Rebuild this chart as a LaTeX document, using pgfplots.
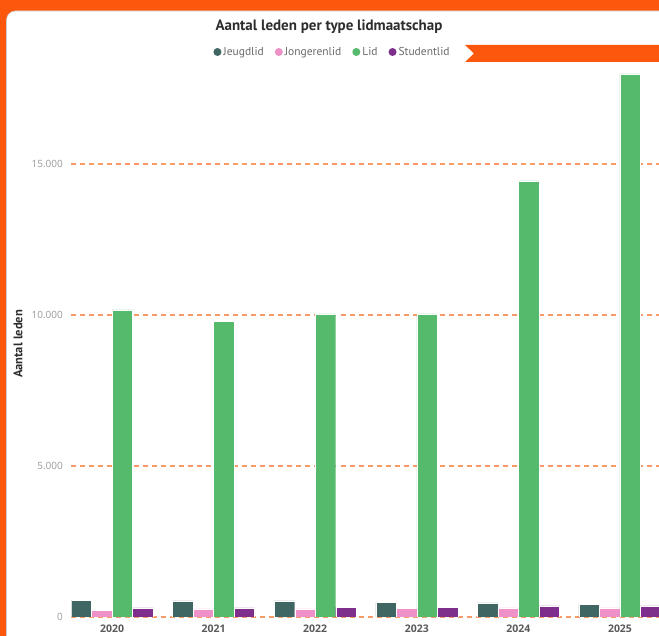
\documentclass[border=0pt]{standalone}
\usepackage{pgfplots}
\pgfplotsset{compat=1.18}
\usepackage{fontspec}
\setmainfont{Open Sans}
\newfontfamily\dinfont{PT Sans}
\definecolor{frameorange}{HTML}{FD560D}
\definecolor{gridorange}{HTML}{F89B68}
\definecolor{cJeugd}{HTML}{3F6662}
\definecolor{cJonger}{HTML}{EE91C9}
\definecolor{cLid}{HTML}{56BA6C}
\definecolor{cStudent}{HTML}{7E2F8C}
\definecolor{titlecol}{HTML}{2E2D2C}
\definecolor{tickgray}{HTML}{9A9A9A}
\definecolor{yeargray}{HTML}{5A5A5A}
\definecolor{leggray}{HTML}{6A6A6A}
\begin{document}
\begin{tikzpicture}[x=1pt,y=1pt]
\path[use as bounding box] (0,0) rectangle (659,636);
\fill[frameorange] (0,0) rectangle (659,636);
\fill[white,rounded corners=9pt,draw=black!20,line width=0.6pt] (6.5,-30) rectangle (668,625);
\fill[frameorange] (465,591) -- (474,582.5) -- (465,574) -- (670,574) -- (670,591) -- cycle;
\node[font=\dinfont\bfseries\fontsize{15}{17}\selectfont,text=titlecol] at (329,609) {Aantal leden per type lidmaatschap};
\node[font=\dinfont\bfseries\fontsize{12.5}{14}\selectfont,text=titlecol,rotate=90] at (18,292) {Aantal leden};
\begin{axis}[
  at={(71.4pt,19pt)}, anchor=south west,
  scale only axis, width=587.6pt, height=551pt,
  xmin=-0.4, xmax=5.384, ymin=0, ymax=18245,
  scaled y ticks=false,
  ybar=0pt, bar width=20.5pt,
  axis line style={draw=none}, tick style={draw=none},
  xtick={0,1,2,3,4,5},
  xticklabels={2020,2021,2022,2023,2024,2025},
  ytick={0,5000,10000,15000},
  yticklabels={0,5.000,10.000,15.000},
  xticklabel style={font=\bfseries\fontsize{10.5}{12}\selectfont,text=yeargray,yshift=-0.5pt},
  yticklabel style={font=\fontsize{10}{12}\selectfont,text=tickgray,xshift=-5pt},
  ymajorgrids,
  major grid style={draw=gridorange,line width=1.3pt,dash pattern=on 5pt off 4pt},
  legend columns=4,
  legend style={at={(axis description cs:0.4444,1.0254)},anchor=center,draw=none,fill=none,
    font=\dinfont\fontsize{11.5}{13}\selectfont,text=leggray,
    /tikz/every even column/.append style={column sep=9pt},
    inner sep=0pt},
  legend image code/.code={\path[#1,draw=none] (3pt,0pt) circle (4pt);},
  every axis plot/.append style={draw=white,line width=0.4pt},
]
\addplot[fill=cJeugd] coordinates {(0,550) (1,530) (2,530) (3,485) (4,465) (5,430)};
\addplot[fill=cJonger] coordinates {(0,220) (1,270) (2,270) (3,275) (4,300) (5,300)};
\addplot[fill=cLid] coordinates {(0,10166) (1,9801) (2,10033) (3,10033) (4,14437) (5,17980)};
\addplot[fill=cStudent] coordinates {(0,300) (1,300) (2,320) (3,320) (4,365) (5,365)};
\legend{Jeugdlid,Jongerenlid,Lid,Studentlid}
\end{axis}
\end{tikzpicture}
\end{document}
